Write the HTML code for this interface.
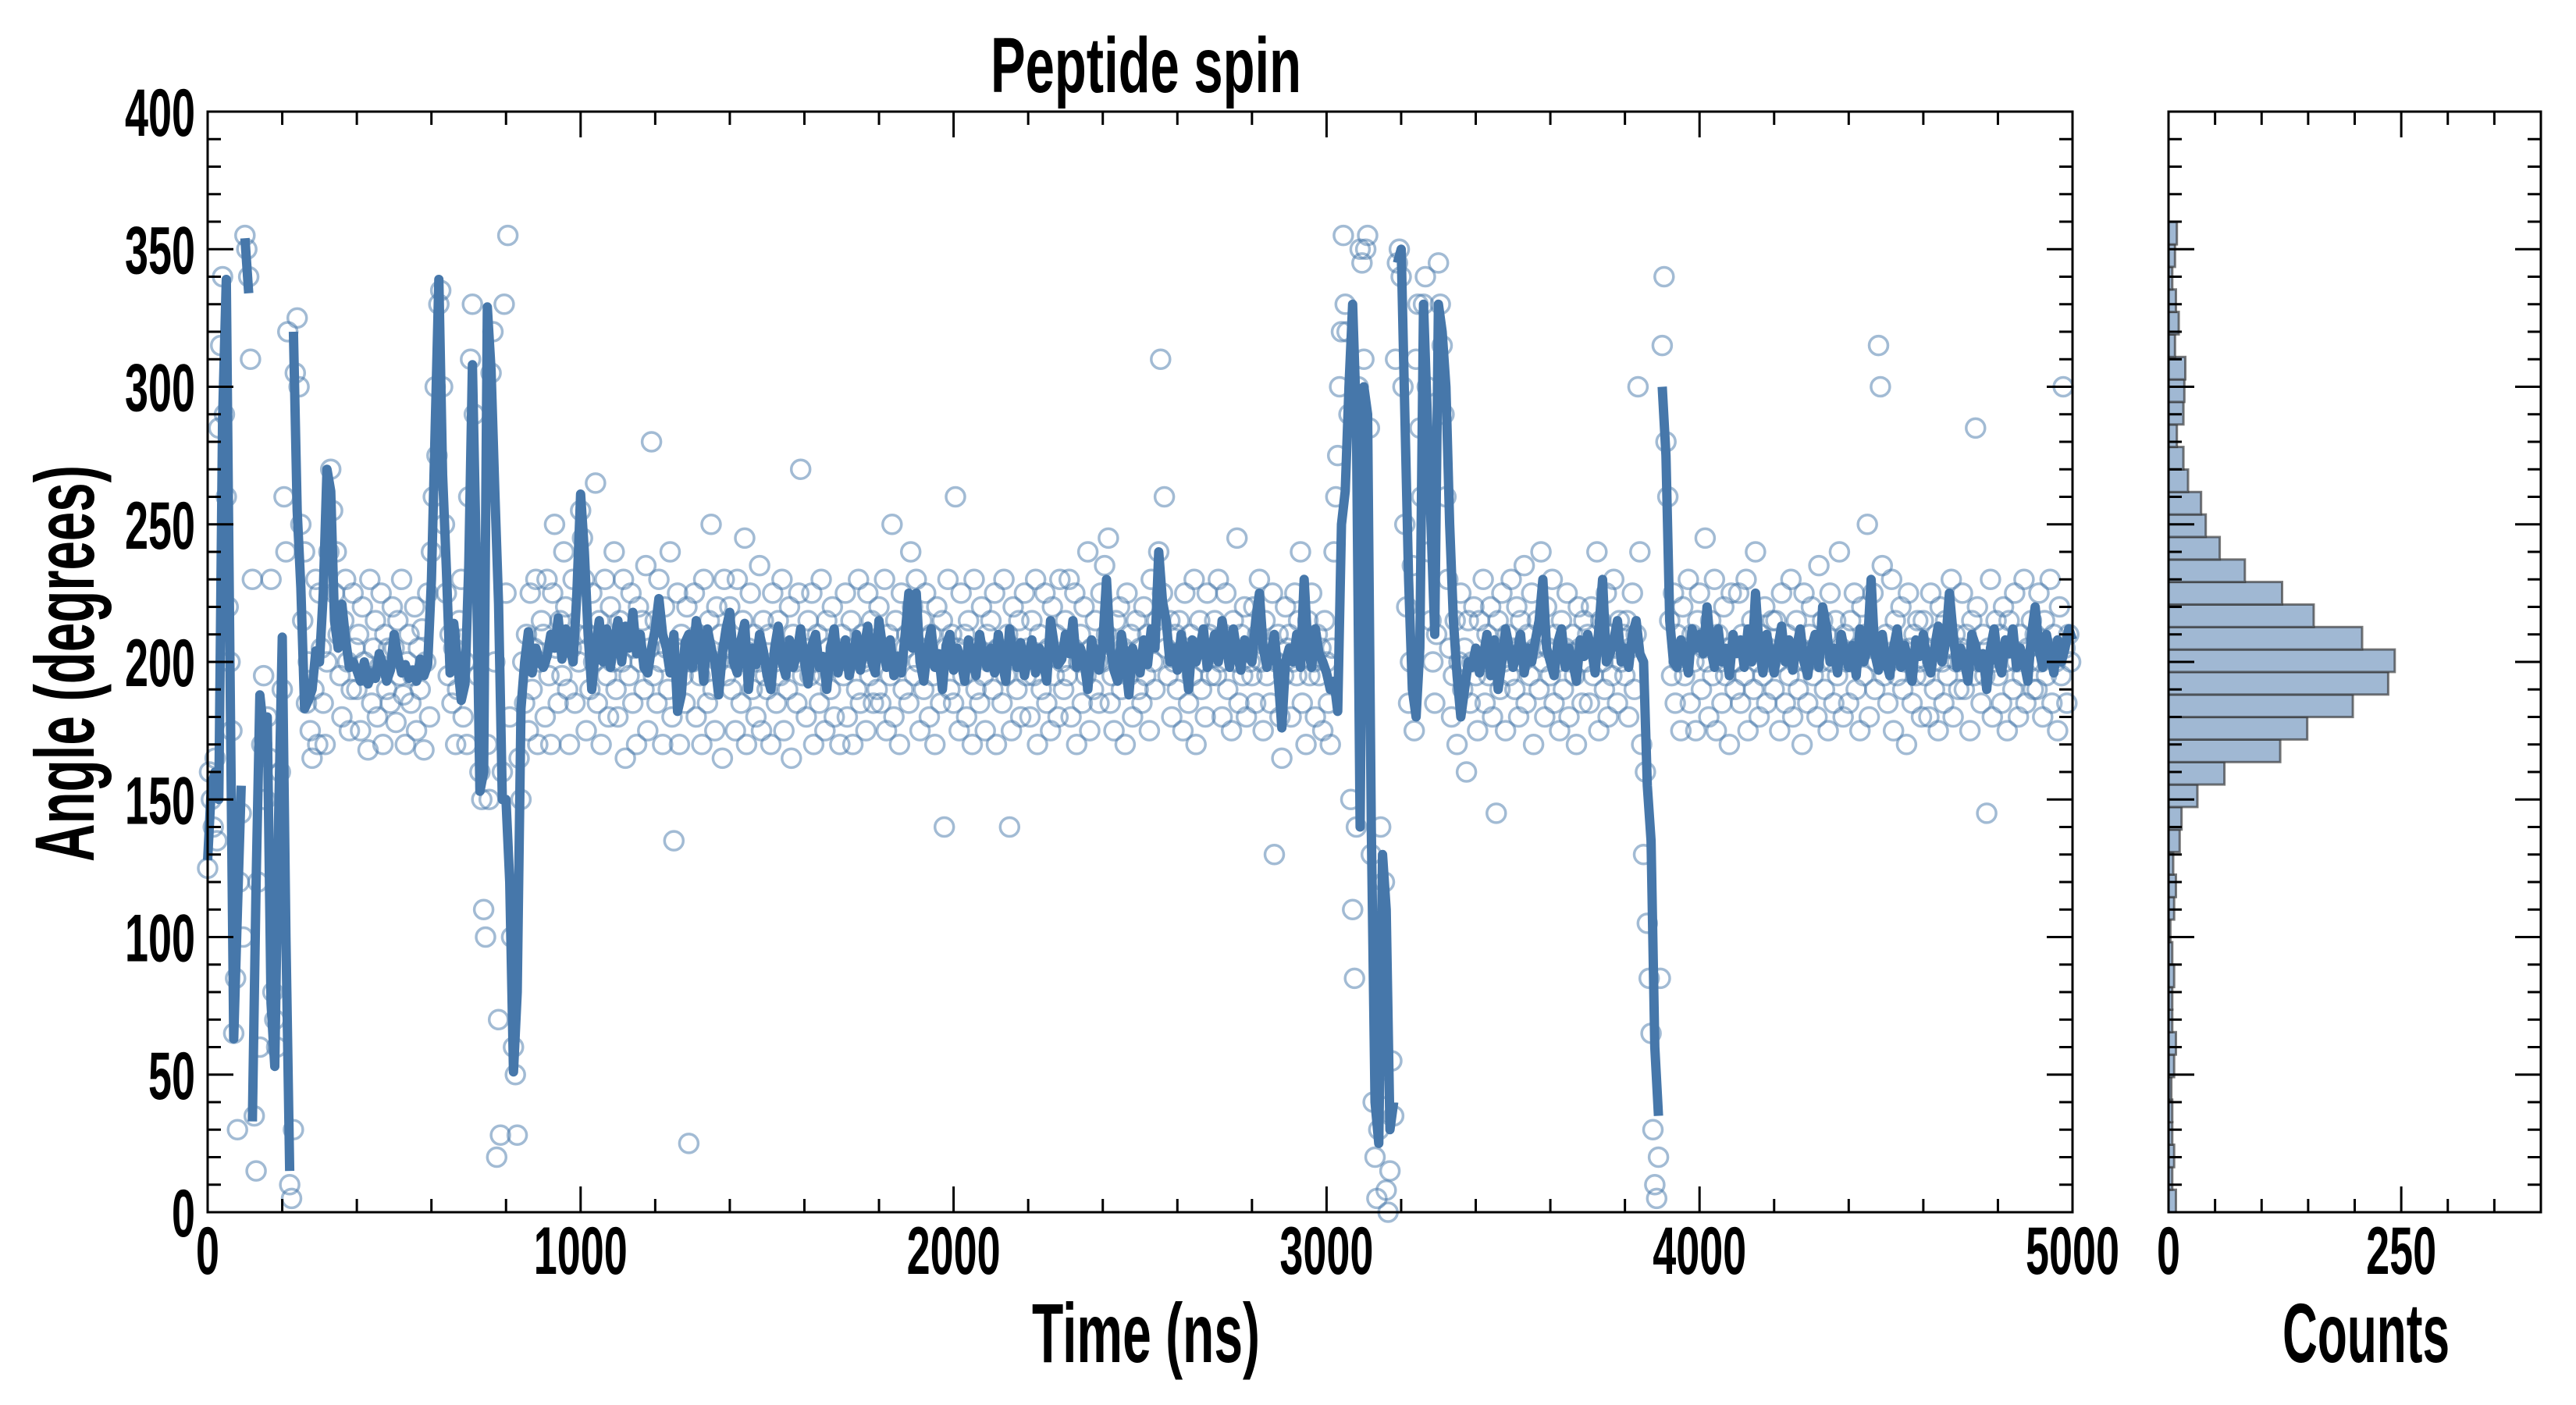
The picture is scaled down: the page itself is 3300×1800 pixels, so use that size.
<!DOCTYPE html>
<html><head><meta charset="utf-8"><title>Peptide spin</title>
<style>
html,body{margin:0;padding:0;background:#fff;}
svg{display:block;}
text{font-family:"Liberation Sans Narrow","Liberation Sans",sans-serif;font-weight:bold;fill:#000;}
</style></head>
<body>
<svg id="chart" width="3300" height="1800" viewBox="0 0 3300 1800" xmlns="http://www.w3.org/2000/svg">
<rect x="0" y="0" width="3300" height="1800" fill="#fff"/>
<g id="main-marks"></g>
<g id="hist-marks"></g>
<g id="axes"></g>
<text x="1468" y="118" font-size="100" text-anchor="middle" textLength="398" lengthAdjust="spacingAndGlyphs">Peptide spin</text>
<text x="1468" y="1745" font-size="108" text-anchor="middle" textLength="292" lengthAdjust="spacingAndGlyphs">Time (ns)</text>
<text x="3031" y="1745" font-size="108" text-anchor="middle" textLength="214" lengthAdjust="spacingAndGlyphs">Counts</text>
<text x="0" y="0" font-size="108" text-anchor="middle" textLength="508" lengthAdjust="spacingAndGlyphs" transform="translate(120,850) rotate(-90)">Angle (degrees)</text>
</svg>
<script>
const lineStep = 10;
const lineValues = [
128,155,160,150,288,339,196,63,110,155,
354,334,33,120,188,175,180,76,53,142,
209,100,15,320,255,227,183,186,190,204,
200,225,270,262,215,205,221,208,198,200,
197,193,200,192,196,194,203,199,193,197,
210,202,196,199,194,197,193,201,195,199,
230,285,339,268,234,196,214,200,186,192,
235,308,240,153,160,329,306,262,221,150,
150,120,51,80,183,200,211,196,205,200,
198,202,210,205,216,201,212,205,200,225,
261,240,210,190,205,215,200,212,198,207,
215,200,213,205,218,203,210,198,196,205,
212,223,210,205,196,210,182,188,207,210,
198,215,208,193,212,205,200,188,203,212,
218,200,196,208,214,190,205,199,210,204,
195,190,205,213,200,195,208,198,203,212,
200,192,206,210,198,202,190,205,212,196,
203,208,195,201,210,197,205,213,200,196,
215,205,198,208,195,202,196,210,225,205,
225,200,193,205,212,198,203,190,206,210,
197,205,200,193,208,201,195,210,202,198,
205,196,210,200,193,212,203,198,207,195,
202,208,196,205,200,193,215,206,199,201,
210,203,215,198,205,200,190,208,202,197,
207,230,205,197,193,210,201,188,205,200,
196,208,199,212,205,240,222,215,200,205,
197,210,203,190,208,200,205,212,198,203,
210,200,215,206,198,212,203,197,208,202,
200,215,225,205,198,203,210,195,176,200,
205,200,210,198,230,205,198,212,203,200,
196,190,193,182,250,262,300,330,288,140,
300,290,140,40,25,130,110,30,40,345,
350,290,230,190,180,205,330,290,250,210,
330,320,300,250,215,195,180,190,200,198,
205,196,202,210,195,208,190,200,212,205,
198,203,210,196,205,200,208,215,230,205,
200,195,207,212,198,205,200,193,208,202,
210,205,196,212,230,200,203,208,215,200,
205,198,210,215,203,200,155,135,60,35,
300,275,215,200,198,208,203,196,212,205,
210,203,220,205,198,212,200,205,195,210,
203,208,198,212,200,225,205,196,210,203,
196,205,213,200,208,197,205,212,200,195,
205,210,198,220,213,200,205,196,210,203,
198,206,195,212,200,205,230,203,197,210,
200,195,205,212,198,206,200,193,208,202,
210,200,196,205,213,200,207,225,210,198,
205,200,193,210,206,198,203,190,205,212,
200,196,208,203,212,198,205,200,193,210,
220,205,198,210,203,196,208,200,205,212,
208];
const scatterStep = 5;
const scatterValues = [
125,160,150,140,165,135,285,315,340,290,260,220,200,175,65,85,30,120,145,100,
355,350,340,310,230,35,15,120,60,170,195,150,180,165,230,80,70,60,130,160,
190,260,240,320,10,5,30,305,325,300,250,215,240,185,200,175,165,190,230,170,
225,205,185,170,200,240,270,255,225,240,210,195,180,215,230,200,175,190,225,205,
190,210,175,220,200,195,168,230,185,205,215,180,198,225,170,210,190,205,185,220,
205,178,215,195,230,188,170,200,210,185,195,220,175,205,190,212,168,200,225,180,
240,260,300,275,330,335,300,250,225,195,210,185,205,170,190,215,230,180,200,170,
260,310,330,290,240,195,160,150,110,100,170,150,305,320,200,20,70,28,160,330,
225,355,180,100,60,50,28,165,150,200,185,210,175,225,190,205,230,170,200,215,
210,180,230,195,170,225,250,205,185,215,195,240,220,190,170,205,230,185,210,200,
255,245,230,175,210,190,225,200,265,185,215,170,205,230,195,180,220,200,240,190,
180,215,200,230,165,210,195,225,185,205,170,220,200,215,190,235,175,205,280,195,
215,185,230,200,170,220,205,190,240,180,135,205,225,170,210,195,185,220,25,200,
200,225,180,210,195,170,230,205,185,215,250,190,175,220,200,210,165,230,195,205,
220,190,205,175,230,200,185,215,245,170,205,225,190,210,180,200,235,175,215,195,
190,210,170,225,200,185,215,195,230,175,205,190,220,165,210,200,185,225,270,195,
205,180,215,195,225,170,200,210,185,230,195,175,215,205,190,220,180,205,200,170,
210,195,225,180,200,215,170,205,190,230,185,210,200,175,225,195,215,185,205,190,
220,185,205,230,175,210,195,250,180,215,200,170,225,190,205,210,185,240,220,195,
230,200,175,215,190,225,205,180,210,195,170,220,200,185,215,140,205,230,190,210,
185,260,205,175,225,195,210,180,215,200,170,230,190,205,185,220,195,175,210,200,
215,190,225,170,205,200,185,230,195,210,140,175,220,205,190,215,180,200,225,195,
205,180,215,195,230,170,210,190,200,225,185,205,175,220,195,210,180,230,200,190,
215,195,230,180,205,225,170,200,210,185,220,195,240,175,205,190,215,200,185,225,
200,235,210,245,185,195,175,215,200,220,190,205,170,225,195,210,180,200,215,190,
205,185,220,195,210,175,230,200,190,215,240,310,225,260,205,195,215,180,200,210,
190,215,200,175,225,205,185,210,195,230,170,205,215,190,200,180,225,210,195,205,
215,195,230,200,180,210,225,190,205,175,215,200,245,185,210,195,220,180,205,200,
195,220,185,210,230,200,175,215,195,205,185,225,130,200,210,180,165,195,220,205,
210,180,200,225,195,215,240,185,205,170,215,195,225,200,180,210,195,205,175,215,
200,185,170,205,240,260,275,300,320,355,330,320,290,150,110,85,140,300,350,345,
310,350,355,285,130,40,20,5,30,140,45,120,8,0,15,55,35,310,345,350,
340,300,250,220,185,200,235,175,310,330,285,260,330,340,300,240,215,200,185,210,
345,330,315,290,260,230,205,180,195,215,170,200,225,190,205,160,215,185,200,220,
195,175,215,200,230,185,210,195,220,180,205,145,215,190,225,200,175,210,195,230,
205,190,220,180,215,200,235,185,210,195,225,170,205,215,190,240,200,180,220,205,
195,230,185,210,200,175,215,190,205,225,180,200,210,195,170,220,205,185,215,200,
210,185,220,195,205,240,175,215,200,190,225,180,210,195,230,205,185,215,200,210,
195,215,180,205,225,190,210,300,240,170,130,160,105,85,65,30,10,5,20,85,
315,340,280,260,215,195,225,185,210,200,175,220,195,205,230,185,210,200,175,215,
225,190,205,245,200,180,215,195,230,175,210,200,185,220,195,205,170,225,200,190,
200,225,185,210,195,230,175,205,215,190,240,200,180,210,195,220,185,205,200,215,
190,215,200,175,225,205,185,210,195,230,180,200,215,190,205,170,225,200,185,210,
220,195,205,180,235,200,215,190,210,175,225,200,185,215,195,240,205,180,210,200,
185,215,200,225,190,205,175,220,195,210,250,180,205,225,190,200,315,300,235,195,
210,185,200,230,175,215,195,205,220,190,200,170,225,205,185,210,195,215,200,180,
215,195,205,180,225,200,190,210,175,220,200,185,215,195,205,230,180,210,200,190,
205,225,190,210,200,175,215,195,285,220,200,185,210,195,145,205,230,180,200,215,
195,210,185,220,200,175,215,205,190,225,200,180,210,195,230,185,205,200,215,190,
210,190,225,200,180,215,195,205,230,185,210,200,175,220,195,300,205,185,210,200];
const histBinWidth = 8.18;
const histCounts = [8,4,6,4,4,3,6,8,4,4,6,4,2,6,8,5,12,14,31,60,120,149,198,236,243,208,156,122,82,55,40,35,21,16,9,16,17,18,7,11,8,4,7,9];
const xTickLabels = ["0","1000","2000","3000","4000","5000"];
const yTickLabels = ["0","50","100","150","200","250","300","350","400"];
const histTickLabels = ["0","250"];

const PL=266, PR=2655, PT=143, PB=1553, HL=2778, HR=3255;
const X = t => PL + (t/5000)*(PR-PL);
const Y = a => PB - (a/400)*(PB-PT);
const HX = c => HL + (c/400)*(HR-HL);
const NS='http://www.w3.org/2000/svg';
function mk(tag, attrs, parent){const e=document.createElementNS(NS,tag);for(const k in attrs)e.setAttribute(k,attrs[k]);parent.appendChild(e);return e;}

const main=document.getElementById('main-marks');
scatterValues.forEach((v,i)=>{
  const c=mk('circle',{cx:X(i*scatterStep).toFixed(1),cy:Y(v).toFixed(1),r:12,fill:'none',stroke:'#4677aa','stroke-opacity':0.5,'stroke-width':3.5},main);
  
  
});
let segs=[],cur=[],prev=null;
lineValues.forEach((v,i)=>{
  if(prev!==null && Math.abs(v-prev)>180){segs.push(cur);cur=[];}
  cur.push([X(i*lineStep),Y(v)]);
  prev=v;
});
if(cur.length)segs.push(cur);
segs.forEach(s=>{
  const p=mk('path',{d:'M'+s.map(q=>q[0].toFixed(1)+','+q[1].toFixed(1)).join('L'),fill:'none',stroke:'#4677aa','stroke-width':12,'stroke-linejoin':'round','stroke-linecap':'butt'},main);
  
  
});
const hist=document.getElementById('hist-marks');
histCounts.forEach((c,i)=>{
  const y0=Y(i*histBinWidth), y1=Y((i+1)*histBinWidth);
  const r=mk('rect',{x:HL,y:y1.toFixed(1),width:(HX(c)-HL).toFixed(1),height:(y0-y1).toFixed(1),fill:'#a0b8d3',stroke:'#333','stroke-opacity':0.65,'stroke-width':3},hist);
  
  
});

const ax=document.getElementById('axes');
function frame(l,r,name){
  const f=mk('rect',{x:l,y:PT,width:r-l,height:PB-PT,fill:'none',stroke:'#000','stroke-width':3},ax);
  
  
}
frame(PL,PR,'main-plot-frame');
frame(HL,HR,'histogram-frame');
function tick(x1,y1,x2,y2){const t=mk('line',{x1,y1,x2,y2,stroke:'#000','stroke-width':3},ax);}
for(let a=0;a<=400;a+=10){
  const y=Y(a), L=(a%50===0)?33:17;
  tick(PL,y,PL+L,y); tick(PR,y,PR-L,y);
  tick(HL,y,HL+L,y); tick(HR,y,HR-L,y);
}
for(let t=0;t<=5000;t+=200){
  const x=X(t), L=(t%1000===0)?33:17;
  tick(x,PB,x,PB-L); tick(x,PT,x,PT+L);
}
for(let c=0;c<=400;c+=50){
  const x=HX(c), L=(c%250===0)?33:17;
  tick(x,PB,x,PB-L); tick(x,PT,x,PT+L);
}
function label(txt,x,y,anchor,w,name){
  const t=mk('text',{x,y,'font-size':86,'text-anchor':anchor,textLength:w,lengthAdjust:'spacingAndGlyphs'},ax);
  t.textContent=txt;
  
  
}
xTickLabels.forEach((s,i)=>label(s,X(i*1000),1632,'middle',s.length*30,'x-tick-label'));
yTickLabels.forEach((s,i)=>label(s,250,Y(i*50)+31,'end',s.length*30,'y-tick-label'));
histTickLabels.forEach((s,i)=>label(s,HX(i*250),1632,'middle',s.length*30,'histogram-x-tick-label'));
</script>
</body></html>
